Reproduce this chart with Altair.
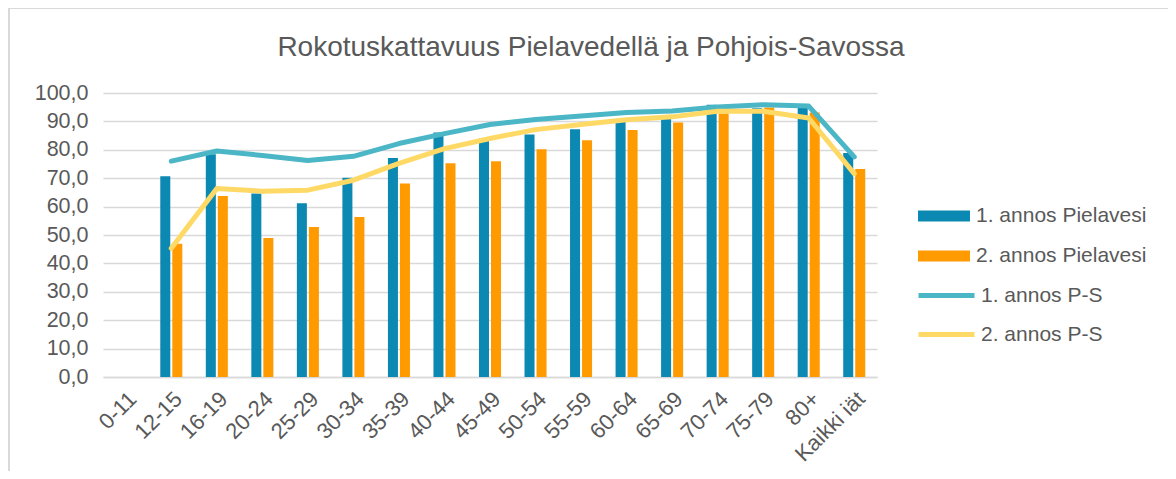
import altair as alt
import pandas as pd

cats = ["0-11", "12-15", "16-19", "20-24", "25-29", "30-34", "35-39", "40-44",
        "45-49", "50-54", "55-59", "60-64", "65-69", "70-74", "75-79", "80+", "Kaikki iät"]
bar_series = ["1. annos Pielavesi", "2. annos Pielavesi"]
line_series = ["1. annos P-S", "2. annos P-S"]
title_text = "Rokotuskattavuus Pielavedellä ja Pohjois-Savossa"

pielavesi_1 = [None, 70.7, 78.4, 64.6, 61.2, 70.2, 77.1, 86.1, 84.0, 85.4, 87.2, 90.4, 91.8, 95.9, 94.6, 94.8, 78.9]
pielavesi_2 = [None, 46.9, 63.7, 48.9, 52.8, 56.3, 68.1, 75.3, 76.0, 80.2, 83.4, 87.0, 89.6, 92.8, 94.9, 93.1, 73.2]
ps_1 = [None, 76.0, 79.6, 78.0, 76.2, 77.7, 82.2, 85.7, 88.9, 90.7, 91.9, 93.1, 93.7, 95.1, 95.9, 95.4, 77.5]
ps_2 = [None, 45.3, 66.4, 65.4, 65.8, 69.3, 75.2, 80.4, 84.0, 87.1, 88.9, 90.6, 91.6, 93.6, 93.6, 91.2, 71.6]

y_ticks = [0, 10, 20, 30, 40, 50, 60, 70, 80, 90, 100]

bar_rows = []
for c, a, b in zip(cats, pielavesi_1, pielavesi_2):
    if a is not None:
        bar_rows.append({"cat": c, "series": bar_series[0], "value": a})
    if b is not None:
        bar_rows.append({"cat": c, "series": bar_series[1], "value": b})
line_rows = []
for c, a, b in zip(cats, ps_1, ps_2):
    if a is not None:
        line_rows.append({"cat": c, "series": line_series[0], "value": a})
    if b is not None:
        line_rows.append({"cat": c, "series": line_series[1], "value": b})
df_bar = pd.DataFrame(bar_rows)
df_line = pd.DataFrame(line_rows)

TEXT = "#595959"
GRID = "#d9d9d9"
FONT = "Liberation Sans"
BLUE = "#0b89b2"
ORANGE = "#ff9a00"
TEAL = "#4bb6c6"
YELLOW = "#ffd966"

xscale = alt.Scale(domain=cats, paddingInner=0.516, paddingOuter=0.258)
yscale = alt.Scale(domain=[0, 100])

x_axis = alt.Axis(title=None, labelAngle=-45, labelFontSize=22, labelFont=FONT,
                  labelColor=TEXT, labelPadding=11, ticks=False, domainColor=GRID,
                  domainWidth=1.5)
y_axis = alt.Axis(title=None, values=y_ticks, labelOverlap=False,
                  labelExpr="replace(format(datum.value, '.1f'), '.', ',')",
                  labelFontSize=21.5, labelFont=FONT, labelColor=TEXT, labelPadding=15,
                  ticks=False, domain=False, grid=True, gridColor=GRID, gridWidth=1.5)

bars = alt.Chart(df_bar).mark_bar().encode(
    x=alt.X("cat:N", scale=xscale, sort=cats, axis=x_axis),
    xOffset=alt.XOffset("series:N", scale=alt.Scale(domain=bar_series, paddingInner=0.1667)),
    y=alt.Y("value:Q", scale=yscale, axis=y_axis),
    color=alt.Color("series:N", scale=alt.Scale(domain=bar_series, range=[BLUE, ORANGE]),
                    legend=alt.Legend(title=None, orient="none", legendX=828, legendY=110,
                                      symbolType="M-2,-0.42H2V0.42H-2Z", symbolSize=676,
                                      symbolStrokeWidth=0, labelFontSize=21, labelFont=FONT,
                                      labelColor=TEXT, labelOffset=19, rowPadding=17,
                                      padding=0, labelLimit=400)),
)

lines = alt.Chart(df_line).mark_line(strokeWidth=5, strokeCap="round", strokeJoin="round").encode(
    x=alt.X("cat:N", scale=xscale, sort=cats, axis=x_axis),
    y=alt.Y("value:Q", scale=yscale, axis=y_axis),
    stroke=alt.Stroke("series:N", scale=alt.Scale(domain=line_series, range=[TEAL, YELLOW]),
                      legend=alt.Legend(title=None, orient="none", legendX=827, legendY=186,
                                        symbolType="M-2,0H2", symbolSize=784,
                                        symbolStrokeWidth=5, labelFontSize=21, labelFont=FONT,
                                        labelColor=TEXT, labelOffset=18, rowPadding=12,
                                        padding=0, labelLimit=400)),
)

frame = alt.Chart(pd.DataFrame({"f": [0]})).mark_rect(
    fill=None, stroke=GRID, strokeWidth=2
).encode(x=alt.value(-94), x2=alt.value(1072), y=alt.value(-85), y2=alt.value(420))

title = alt.Chart(pd.DataFrame({"t": [title_text]})).mark_text(
    font=FONT, fontSize=28, color=TEXT, align="center", baseline="alphabetic"
).encode(text="t:N", x=alt.value(488), y=alt.value(-37))

chart = alt.layer(frame, bars, lines, title).properties(
    width=774,
    height=284,
    autosize=alt.AutoSizeParams(type="none"),
    padding={"left": 95, "top": 85, "right": 291, "bottom": 94},
).configure_view(stroke=None)

chart.save("out.html", embed_options={"renderer": "svg", "actions": False})
